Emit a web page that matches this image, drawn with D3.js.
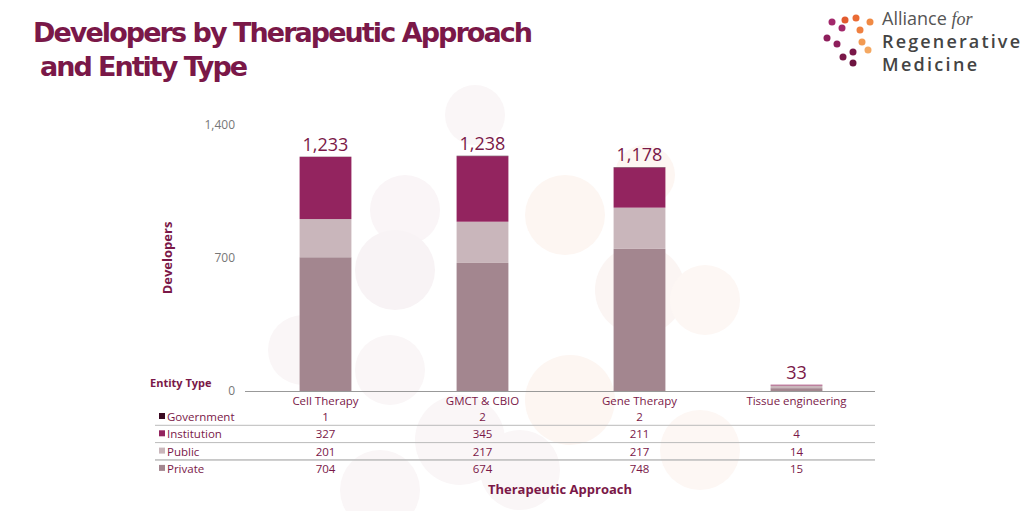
<!DOCTYPE html>
<html><head><meta charset="utf-8">
<script src="https://cdn.jsdelivr.net/npm/d3@7"></script>
<style>body{margin:0;background:#fff;font-family:"Open Sans",sans-serif}</style>
</head><body><svg id="c" width="1024" height="511"></svg>
<script>
const categories = ['Cell Therapy', 'GMCT & CBIO', 'Gene Therapy', 'Tissue engineering'];
const entityTypes = ['Private', 'Public', 'Institution', 'Government'];
const privateVals = [704, 674, 748, 15];
const publicVals = [201, 217, 217, 14];
const institutionVals = [327, 345, 211, 4];
const governmentVals = [1, 2, 2, 0];
const totals = [1233, 1238, 1178, 33];
const yTicks = [0, 700, 1400];
const colors = { Private: '#a3868f', Public: '#c9b6bb', Institution: '#93245f', Government: '#3a0a22' };
const series = { Private: privateVals, Public: publicVals, Institution: institutionVals, Government: governmentVals };

const svg = d3.select('#c');
const maroon = '#7a1848';

// faint background molecule
const bg = svg.append('g');
[[475,115,30,'#faf6f7'],[405,210,35,'#faf5f7'],[395,270,40,'#f8f3f5'],[303,350,35,'#faf6f7'],[390,370,35,'#faf6f7'],[460,440,45,'#faf6f7'],[380,490,40,'#faf6f7'],[565,215,40,'#fdf6f2'],[645,175,30,'#fdf6f2'],[640,290,45,'#fbf5f3'],[705,300,35,'#fdf7f4'],[570,400,45,'#fdf6f2'],[520,470,40,'#faf6f7'],[700,450,40,'#fdf7f4']]
  .forEach(([cx, cy, r, c]) => bg.append('circle').attr('cx', cx).attr('cy', cy).attr('r', r).attr('fill', c));

svg.append('text').attr('x', 33).attr('y', 42).attr('fill', maroon)
  .style('font', '900 27px "DejaVu Sans"').attr('textLength', 500).text('Developers by Therapeutic Approach');
svg.append('text').attr('x', 40).attr('y', 76).attr('fill', maroon)
  .style('font', '900 27px "DejaVu Sans"').attr('textLength', 208).text('and Entity Type');

// logo
const logo = svg.append('g');
[[832,22,'#a2286b'],[842,28,'#a2286b'],[827,38,'#8e1f5c'],[837,44,'#8e1f5c'],[843,57,'#7a1848'],[853,52,'#7a1848'],[845,20,'#e25b2f'],[856,18,'#ea6b35'],[860,30,'#ef8040'],[870,22,'#f08a44'],[862,42,'#f29a52'],[868,50,'#f4a862'],[853,63,'#6e1440']]
  .forEach(([cx, cy, c]) => logo.append('circle').attr('cx', cx).attr('cy', cy).attr('r', 3.5).attr('fill', c));
logo.append('text').attr('x', 882).attr('y', 25).attr('fill', '#555').style('font', '18px "Open Sans"').text('Alliance ')
  .append('tspan').style('font-style', 'italic').style('font-family', 'serif').text('for');
logo.append('text').attr('x', 882).attr('y', 48).attr('fill', '#444').style('font', '600 18px "Open Sans"').attr('textLength', 138).text('Regenerative');
logo.append('text').attr('x', 882).attr('y', 71).attr('fill', '#444').style('font', '600 18px "Open Sans"').attr('textLength', 95).text('Medicine');

const x = d3.scaleBand().domain(categories).range([247, 875]).paddingInner(0.67).paddingOuter(0.335);
const y = d3.scaleLinear().domain([0, 1400]).range([391, 125]);

svg.append('g').attr('transform', 'translate(245,0)')
  .call(d3.axisLeft(y).tickValues(yTicks).tickSize(0).tickPadding(10).tickFormat(d3.format(',')))
  .call(g => g.select('.domain').remove())
  .call(g => g.selectAll('text').attr('fill', '#777').style('font', '12px "Open Sans"'));

svg.append('text').attr('transform', 'translate(172,258) rotate(-90)').attr('text-anchor', 'middle')
  .attr('fill', maroon).style('font', 'bold 13px "Open Sans"').text('Developers');

const stackData = categories.map((c, i) => { const o = { cat: c }; entityTypes.forEach(k => o[k] = series[k][i]); return o; });
const stacked = d3.stack().keys(entityTypes)(stackData);
svg.append('g').selectAll('g').data(stacked).join('g').attr('fill', d => colors[d.key])
  .selectAll('rect').data(d => d).join('rect')
  .attr('x', d => x(d.data.cat)).attr('width', x.bandwidth())
  .attr('y', d => y(d[1])).attr('height', d => y(d[0]) - y(d[1]));

svg.append('g').selectAll('text').data(categories).join('text')
  .attr('x', d => x(d) + x.bandwidth() / 2).attr('y', (d, i) => y(totals[i]) - 6)
  .attr('text-anchor', 'middle').attr('fill', maroon).style('font', '18px "Open Sans"')
  .text((d, i) => d3.format(',')(totals[i]));

svg.append('line').attr('x1', 245).attr('x2', 875).attr('y1', 391.5).attr('y2', 391.5).attr('stroke', '#999');
svg.append('text').attr('x', 150).attr('y', 387).attr('fill', maroon).style('font', 'bold 11px "Open Sans"').text('Entity Type');

svg.append('g').selectAll('text').data(categories).join('text')
  .attr('x', d => x(d) + x.bandwidth() / 2).attr('y', 405).attr('text-anchor', 'middle')
  .attr('fill', maroon).style('font', '11.5px "Open Sans"').text(d => d);

// data table
const rows = ['Government', 'Institution', 'Public', 'Private'];
rows.forEach((k, r) => {
  const ry = 421 + r * 17.3;
  if (r > 0) svg.append('line').attr('x1', 155).attr('x2', 875).attr('y1', ry - 13).attr('y2', ry - 13).attr('stroke', '#bbb');
  svg.append('rect').attr('x', 159).attr('y', ry - 8).attr('width', 6).attr('height', 6).attr('fill', colors[k]);
  svg.append('text').attr('x', 167).attr('y', ry).attr('fill', maroon).style('font', '11.5px "Open Sans"').text(k);
  categories.forEach((c, i) => {
    const v = series[k][i];
    if (!v) return;
    svg.append('text').attr('x', x(c) + x.bandwidth() / 2).attr('y', ry).attr('text-anchor', 'middle')
      .attr('fill', maroon).style('font', '11.5px "Open Sans"').text(v);
  });
});
svg.append('line').attr('x1', 155).attr('x2', 875).attr('y1', 460).attr('y2', 460).attr('stroke', '#bbb');

svg.append('text').attr('x', 560).attr('y', 494).attr('text-anchor', 'middle').attr('fill', maroon)
  .style('font', 'bold 13px "Open Sans"').text('Therapeutic Approach');
</script></body></html>
